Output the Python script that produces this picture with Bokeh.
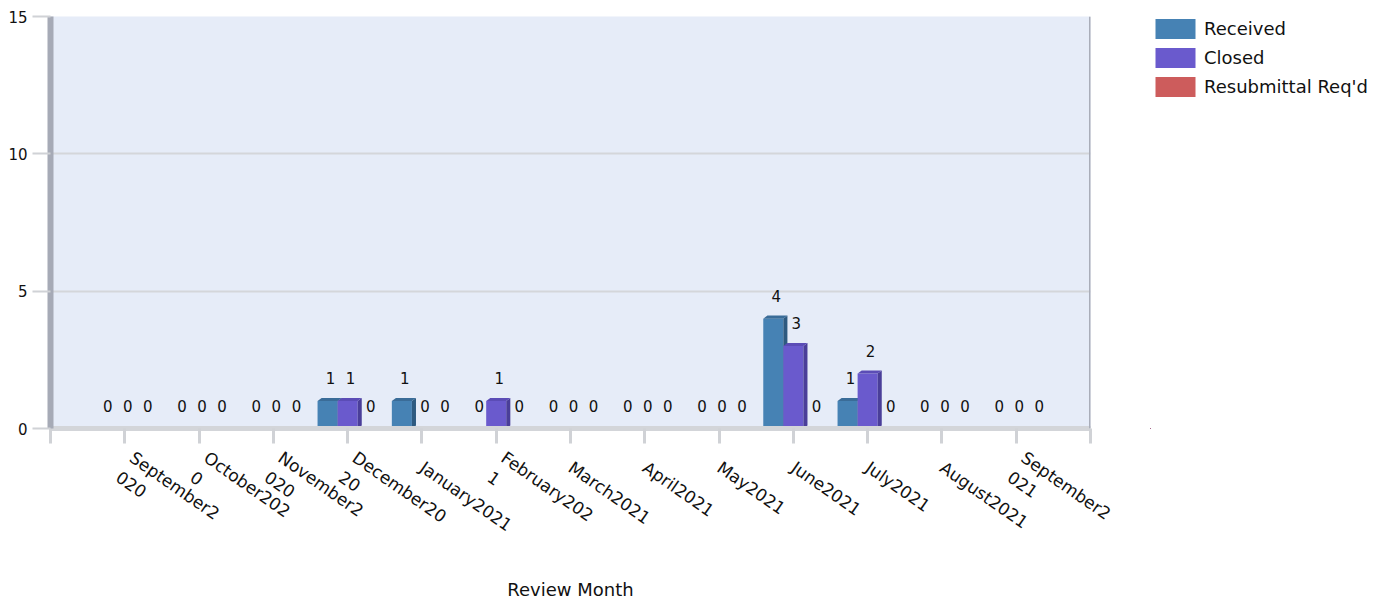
from bokeh.plotting import figure
from bokeh.layouts import row
from bokeh.models import FixedTicker, Legend, LegendItem, Range1d, Span
from bokeh.core.properties import value
from bokeh.embed import file_html
from bokeh.resources import INLINE

months = ["September2\n020", "October202\n0", "November2\n020", "December20\n20", "January2021",
          "February202\n1", "March2021", "April2021", "May2021", "June2021", "July2021",
          "August2021", "September2\n021"]
received = [0, 0, 0, 1, 1, 0, 0, 0, 0, 4, 1, 0, 0]
closed = [0, 0, 0, 1, 0, 1, 0, 0, 0, 3, 2, 0, 0]
resub = [0, 0, 0, 0, 0, 0, 0, 0, 0, 0, 0, 0, 0]
series_names = ["Received", "Closed", "Resubmittal Req'd"]
y_ticks = [0, 5, 10, 15]

FONT = "DejaVu Sans"
front_colors = ["#4682B4", "#6A5ACD", "#CD5C5C"]
side_colors = ["#2E5A80", "#4A3E99", "#9A3E3E"]
top_colors = ["#3A6C98", "#5B4CB6", "#B54E4E"]

p = figure(width=1150, height=603, x_range=Range1d(0, 14), y_range=Range1d(0, 15),
           output_backend="svg", toolbar_location=None,
           min_border_left=50, min_border_right=60, min_border_top=16, min_border_bottom=170)
p.background_fill_color = "#E6ECF8"
p.border_fill_color = "white"
p.outline_line_color = None

n = len(months)
centers = [i + 1 for i in range(n)]
bw = 0.27
offsets = [-bw, 0.0, bw]
dx, dy = 0.055, 0.11
all_series = [received, closed, resub]

for s, vals in enumerate(all_series):
    xs = [c + offsets[s] for c in centers]
    p.vbar(x=xs, top=vals, width=bw, bottom=0, fill_color=front_colors[s], line_color=None)
    side_x, side_y, top_x, top_y = [], [], [], []
    for x, v in zip(xs, vals):
        if v > 0:
            xr = x + bw / 2
            xl = x - bw / 2
            side_x.append([xr, xr + dx, xr + dx, xr])
            side_y.append([0, dy, v + dy, v])
            top_x.append([xl, xl + dx, xr + dx, xr])
            top_y.append([v, v + dy, v + dy, v])
    if side_x:
        p.patches(side_x, side_y, fill_color=side_colors[s], line_color=None)
        p.patches(top_x, top_y, fill_color=top_colors[s], line_color=None)
    p.text(x=xs, y=vals, text=[str(v) for v in vals], text_font=value(FONT),
           text_font_size="15px", text_align="center", text_baseline="middle",
           x_offset=3, y_offset=-23, text_color="#111111")

# axes
p.yaxis.ticker = FixedTicker(ticks=y_ticks)
p.yaxis.major_label_text_font = FONT
p.yaxis.major_label_text_font_size = "15px"
p.yaxis.major_label_text_color = "#111111"
p.yaxis.major_tick_out = 18
p.yaxis.major_tick_in = 0
p.yaxis.minor_tick_line_color = None
p.yaxis.major_tick_line_color = "#D0D2D6"
p.yaxis.major_tick_line_width = 2
p.yaxis.major_label_standoff = 5
p.yaxis.axis_line_color = "#A6AAB6"
p.yaxis.axis_line_width = 6

p.xaxis.ticker = FixedTicker(ticks=list(range(n + 2)))
overrides = {0: "", n + 1: ""}
for i, m in enumerate(months):
    overrides[i + 1] = m
p.xaxis.major_label_overrides = overrides
p.xaxis.major_label_orientation = -0.61
p.xaxis.major_label_text_font = FONT
p.xaxis.major_label_text_font_size = "17px"
p.xaxis.major_label_text_color = "#111111"
p.xaxis.major_tick_out = 15
p.xaxis.major_tick_in = 0
p.xaxis.minor_tick_line_color = None
p.xaxis.major_tick_line_color = "#D0D2D6"
p.xaxis.major_tick_line_width = 3
p.xaxis.axis_line_color = "#D3D5D9"
p.xaxis.axis_line_width = 5
p.xaxis.major_label_standoff = 22
p.xaxis.axis_label = "Review Month"
p.xaxis.axis_label_text_font = FONT
p.xaxis.axis_label_text_font_size = "18px"
p.xaxis.axis_label_text_font_style = "normal"
p.xaxis.axis_label_text_color = "#111111"
p.xaxis.axis_label_standoff = 12

p.xgrid.visible = False
p.ygrid.ticker = FixedTicker(ticks=y_ticks)
p.ygrid.grid_line_color = "#D4D6DA"
p.ygrid.grid_line_width = 2

p.add_layout(Span(location=14, dimension="height", line_color="#A9ADB9", line_width=3))

# legend panel (its bars lie outside its own visible ranges; only the legend shows)
q = figure(width=236, height=603, x_range=Range1d(100, 101), y_range=Range1d(100, 101),
           x_axis_location=None, y_axis_location=None,
           output_backend="svg", toolbar_location=None,
           min_border_left=0, min_border_right=0, min_border_top=9, min_border_bottom=0)
q.grid.visible = False
q.outline_line_color = None
q.background_fill_color = "white"
q.border_fill_color = "white"
leg_renderers = [q.vbar(x=centers, top=all_series[i], width=bw, fill_color=front_colors[i], line_color=None)
                 for i in range(3)]
legend = Legend(items=[LegendItem(label=series_names[i], renderers=[leg_renderers[i]]) for i in range(3)],
                location="top_left", padding=0, margin=0, spacing=4,
                glyph_width=50, glyph_height=25, label_height=25, label_standoff=4,
                label_text_font=FONT, label_text_font_size="18px", label_text_color="#111111",
                border_line_color=None, background_fill_alpha=0)
q.add_layout(legend)

open("out.html", "w").write(file_html(row(p, q), INLINE))
